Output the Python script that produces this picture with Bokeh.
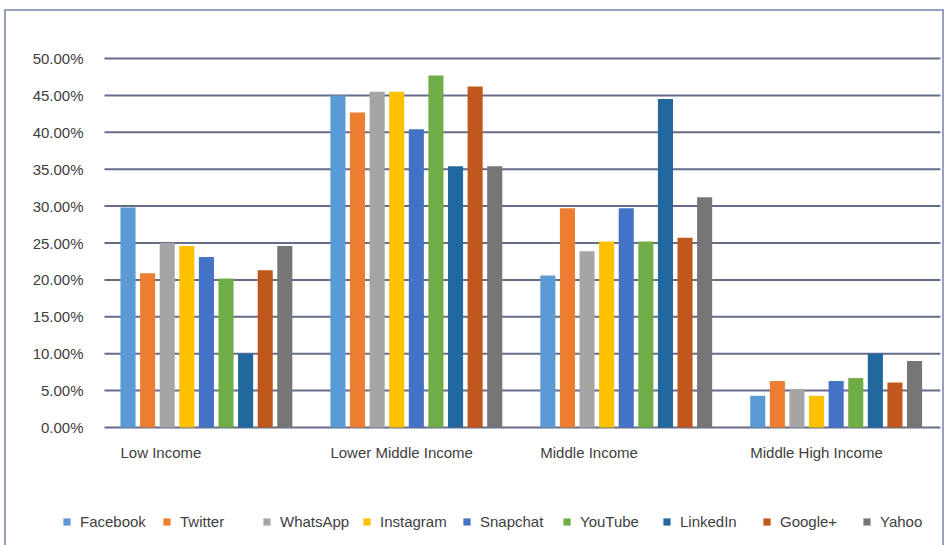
from bokeh.plotting import figure
from bokeh.models import Range1d, Legend, LegendItem, ColumnDataSource
from bokeh.core.properties import value
from bokeh.embed import file_html
from bokeh.resources import INLINE

# Share of users per income group (%)
income_groups = ["Low Income", "Lower Middle Income", "Middle Income", "Middle High Income"]
platforms = ["Facebook", "Twitter", "WhatsApp", "Instagram", "Snapchat",
             "YouTube", "LinkedIn", "Google+", "Yahoo"]

facebook = [29.8, 45.0, 20.6, 4.3]
twitter = [20.9, 42.7, 29.7, 6.3]
whatsapp = [25.0, 45.5, 23.9, 5.2]
instagram = [24.6, 45.5, 25.2, 4.3]
snapchat = [23.1, 40.4, 29.7, 6.3]
youtube = [20.2, 47.7, 25.2, 6.7]
linkedin = [10.0, 35.4, 44.5, 10.0]
google_plus = [21.3, 46.2, 25.7, 6.1]
yahoo = [24.6, 35.4, 31.2, 9.0]

y_ticks = [0, 5, 10, 15, 20, 25, 30, 35, 40, 45, 50]
y_tick_labels = ["%.2f%%" % t for t in y_ticks]

series = [facebook, twitter, whatsapp, instagram, snapchat,
          youtube, linkedin, google_plus, yahoo]
colors = ["#5B9BD5", "#ED7D31", "#A5A5A5", "#FFC000", "#4472C4",
          "#70AD47", "#23679F", "#C0581E", "#767676"]

FONT = "Liberation Sans"
TEXT = "#404040"
GROUP_STEP = 10.71   # distance between groups, in bar slots
BAR_W = 0.77
X0, X1 = -1.2, 41.45  # plotting area, in bar slots

# The whole canvas is the data frame, so labels and legend can sit anywhere in it.
p = figure(width=940, height=540, output_backend="svg", toolbar_location=None,
           x_range=Range1d(-6.2, 41.76), y_range=Range1d(-16.8, 56.37),
           x_axis_location=None, y_axis_location=None,
           min_border=0)
p.styles = {"margin-left": "4px", "margin-top": "9px",
            "border": "2px solid #97A1BE"}
p.background_fill_color = "white"
p.border_fill_color = "white"
p.outline_line_color = None
p.grid.visible = False

# horizontal grid lines and their percentage labels
p.segment(x0=[X0] * len(y_ticks), x1=[X1] * len(y_ticks), y0=y_ticks, y1=y_ticks,
          line_color="#646C8A", line_width=2)
p.text(x=[X0 - 1.07] * len(y_ticks), y=y_ticks, text=y_tick_labels,
       text_align="right", text_baseline="middle",
       text_font=value(FONT), text_font_size="15px", text_color=TEXT)

items = []
for j, (name, vals, col) in enumerate(zip(platforms, series, colors)):
    xs = [i * GROUP_STEP + j for i in range(len(income_groups))]
    r = p.vbar(x=xs, top=vals, width=BAR_W, bottom=0, fill_color=col, line_color=None)
    items.append(LegendItem(label=name, renderers=[r]))

# category names, left-aligned under each group
p.text(x=[i * GROUP_STEP - BAR_W / 2 for i in range(len(income_groups))],
       y=[-3.4] * len(income_groups), text=income_groups,
       text_align="left", text_baseline="middle",
       text_font=value(FONT), text_font_size="15px", text_color=TEXT)

legend = Legend(items=items, orientation="horizontal", location=(56, 21),
                glyph_width=9, glyph_height=9, label_standoff=9, label_width=82,
                spacing=0, padding=0, margin=0,
                border_line_alpha=0, background_fill_alpha=0,
                label_text_font=FONT, label_text_font_size="15px",
                label_text_color=TEXT)
p.add_layout(legend, "center")

open("out.html", "w").write(file_html(p, INLINE))
